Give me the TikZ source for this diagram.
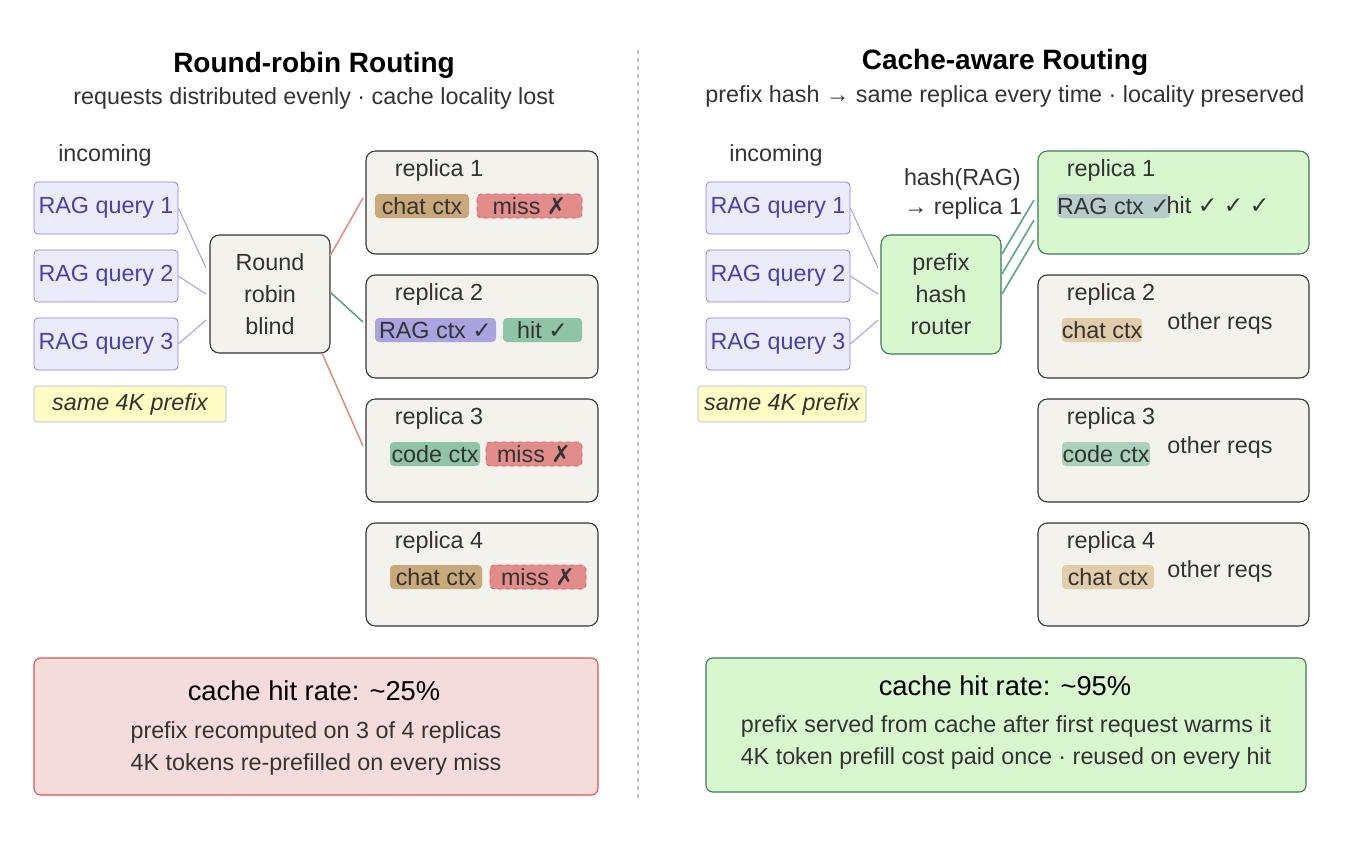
\documentclass[tikz,border=0pt]{standalone}
\usepackage{fontspec}
\setmainfont{Liberation Sans}
\newfontfamily\symf{DejaVu Sans}
\newcommand{\ck}{{\symf ✓}}
\newcommand{\xx}{{\symf ✗}}
\definecolor{txt}{HTML}{333333}
\definecolor{beige}{HTML}{F3F2EC}
\definecolor{qfill}{HTML}{EBEBFA}
\definecolor{qdraw}{HTML}{8A84D6}
\definecolor{qtext}{HTML}{4A3FB5}
\definecolor{tan}{HTML}{C9A97A}
\definecolor{tanl}{HTML}{E2CDAA}
\definecolor{missf}{HTML}{E38C8C}
\definecolor{missd}{HTML}{D9534F}
\definecolor{purp}{HTML}{A9A3E0}
\definecolor{grn}{HTML}{8FC4A7}
\definecolor{grnl}{HTML}{A9D1BC}
\definecolor{steel}{HTML}{B8CCCC}
\definecolor{gfill}{HTML}{D8F7CF}
\definecolor{gdraw}{HTML}{3A7A55}
\definecolor{gline}{HTML}{5AA885}
\definecolor{rline}{HTML}{E0908A}
\definecolor{lav}{HTML}{A8A3E0}
\definecolor{yel}{HTML}{FFFDC4}
\definecolor{rfill}{HTML}{F5DCDC}
\begin{document}
\begin{tikzpicture}[x=0.75pt,y=-0.75pt,
  every node/.style={text=txt,font=\fontsize{17.5}{21}\selectfont},
  box/.style={draw=txt,fill=beige,rounded corners=7pt,line width=0.8pt},
  q/.style={draw=qdraw,fill=qfill,rounded corners=3pt,text=qtext,line width=0.6pt},
  chip/.style={rounded corners=3pt,inner sep=0pt,text=txt},
  miss/.style={chip,fill=missf,draw=missd,dashed,line width=0.5pt},
  lq/.style={draw=lav,line width=0.8pt},
  rl/.style={draw=rline,line width=1.2pt},
  gl/.style={draw=gline,line width=1.2pt}]
\useasboundingbox (0,0) rectangle (1348,840);
\draw[gray!50,dashed,line width=0.8pt] (638,50) -- (638,800);
% Left
\node[font=\bfseries\fontsize{21}{24}\selectfont,text=black] (t1) at (314,65) {Round-robin Routing};
\node (s1) at (314,98) {requests distributed evenly · cache locality lost};
\node (in1) at (105,155) {incoming};
\foreach \i/\y in {1/208,2/276,3/344}{
 \node[q,minimum width=144*0.75pt,minimum height=52*0.75pt,inner sep=1pt] (lq\i) at (106,\y) {RAG query \i};}
\node[draw=qdraw!70,fill=yel,rounded corners=2pt,minimum width=192*0.75pt,minimum height=36*0.75pt,font=\itshape\fontsize{17.5}{21}\selectfont] (lp) at (130,404) {same 4K prefix};
\node[box,minimum width=120*0.75pt,minimum height=118*0.75pt,align=center,font=\fontsize{17.5}{24}\selectfont] (rr) at (270,294) {Round\\robin\\blind};
\foreach \i/\y in {1/151,2/275,3/399,4/523}{
 \draw[box] (366,\y) rectangle (598,\y+103);
 \node (lr\i) at (439,\y+19) {replica \i};}
\coordinate (a1) at (363,198); \coordinate (a2) at (363,322); \coordinate (a3) at (363,446);
\draw[lq] (lq1.east) -- (206,268);
\draw[lq] (lq2.east) -- (206,294);
\draw[lq] (lq3.east) -- (206,320);
\draw[rl] (330,256) -- (a1);
\draw[gl] (330,292) -- (a2);
\draw[rl] (322,353) -- (a3);
% chips left
\node[chip,fill=tan,minimum width=94*0.75pt,minimum height=24*0.75pt] (c11) at (422,206) {chat ctx};
\node[miss,minimum width=105*0.75pt,minimum height=24*0.75pt] (c12) at (529.5,206) {miss \xx};
\node[chip,fill=purp,minimum width=121*0.75pt,minimum height=24*0.75pt] (c21) at (435.5,330) {RAG ctx \ck};
\node[chip,fill=grn,minimum width=79*0.75pt,minimum height=24*0.75pt] (c22) at (542.5,330) {hit \ck};
\node[chip,fill=grn,minimum width=90*0.75pt,minimum height=24*0.75pt] (c31) at (435,454) {code ctx};
\node[miss,minimum width=96*0.75pt,minimum height=24*0.75pt] (c32) at (534,454) {miss \xx};
\node[chip,fill=tan,minimum width=92*0.75pt,minimum height=24*0.75pt] (c41) at (436,577) {chat ctx};
\node[miss,minimum width=96*0.75pt,minimum height=24*0.75pt] (c42) at (538,577) {miss \xx};
\draw[draw=missd,fill=rfill,rounded corners=5pt,line width=0.8pt] (34,658) rectangle (598,795);
\node[font=\fontsize{20.5}{24}\selectfont,text=black] (lh) at (314,691) {cache hit rate: \textasciitilde25\%};
\node (l1) at (316,732) {prefix recomputed on 3 of 4 replicas};
\node (l2) at (316,764) {4K tokens re-prefilled on every miss};
% Right
\node[font=\bfseries\fontsize{21}{24}\selectfont,text=black] (t2) at (1005,62) {Cache-aware Routing};
\node (s2) at (1005,96) {prefix hash → same replica every time · locality preserved};
\node (in2) at (776,155) {incoming};
\foreach \i/\y in {1/208,2/276,3/344}{
 \node[q,minimum width=144*0.75pt,minimum height=52*0.75pt,inner sep=1pt] (rq\i) at (778,\y) {RAG query \i};}
\node[draw=qdraw!70,fill=yel,rounded corners=2pt,minimum width=168*0.75pt,minimum height=36*0.75pt,inner sep=1pt,font=\itshape\fontsize{17.5}{21}\selectfont] (rp) at (782,404) {same 4K prefix};
\node[draw=gdraw,fill=gfill,rounded corners=7pt,line width=0.8pt,minimum width=120*0.75pt,minimum height=119*0.75pt,align=center,font=\fontsize{17.5}{24}\selectfont] (hr) at (941,294.5) {prefix\\hash\\router};
\node[align=left,inner sep=0pt] (hl) at (963,194) {hash(RAG)\\[1pt]→ replica 1};
\draw[draw=gdraw,fill=gfill,rounded corners=7pt,line width=0.8pt] (1038,151) rectangle (1309,254);
\foreach \i/\y in {2/275,3/399,4/523}{\draw[box] (1038,\y) rectangle (1309,\y+103);}
\foreach \i/\y in {1/151,2/275,3/399,4/523}{\node (rr\i) at (1111,\y+19) {replica \i};}
\draw[lq] (rq1.east) -- (878,268);
\draw[lq] (rq2.east) -- (878,294);
\draw[lq] (rq3.east) -- (878,320);
\coordinate (b1) at (1034,200); \coordinate (b2) at (1034,220); \coordinate (b3) at (1034,240);
\draw[gl] (1002,254) -- (b1);
\draw[gl] (1002,274) -- (b2);
\draw[gl] (1002,294) -- (b3);
\node[chip,fill=steel,minimum width=103*0.75pt,minimum height=24*0.75pt] (d11) at (1113.5,206) {RAG ctx \ck};
\node (d12) at (1218,205) {hit \ck\ \ck\ \ck};
\node[chip,fill=tanl,minimum width=80*0.75pt,minimum height=24*0.75pt] (d21) at (1102,330) {chat ctx};
\node[chip,fill=grnl,minimum width=88*0.75pt,minimum height=24*0.75pt] (d31) at (1106,454) {code ctx};
\node[chip,fill=tanl,minimum width=92*0.75pt,minimum height=24*0.75pt] (d41) at (1108,577) {chat ctx};
\foreach \i/\y in {2/323,3/447,4/571}{\node (o\i) at (1220,\y) {other reqs};}
\draw[draw=gdraw,fill=gfill,rounded corners=5pt,line width=0.8pt] (706,658) rectangle (1306,792);
\node[font=\fontsize{20.5}{24}\selectfont,text=black] (rh) at (1005,686) {cache hit rate: \textasciitilde95\%};
\node (r1) at (1006,726) {prefix served from cache after first request warms it};
\node (r2) at (1006,758) {4K token prefill cost paid once · reused on every hit};
\end{tikzpicture}
\end{document}
